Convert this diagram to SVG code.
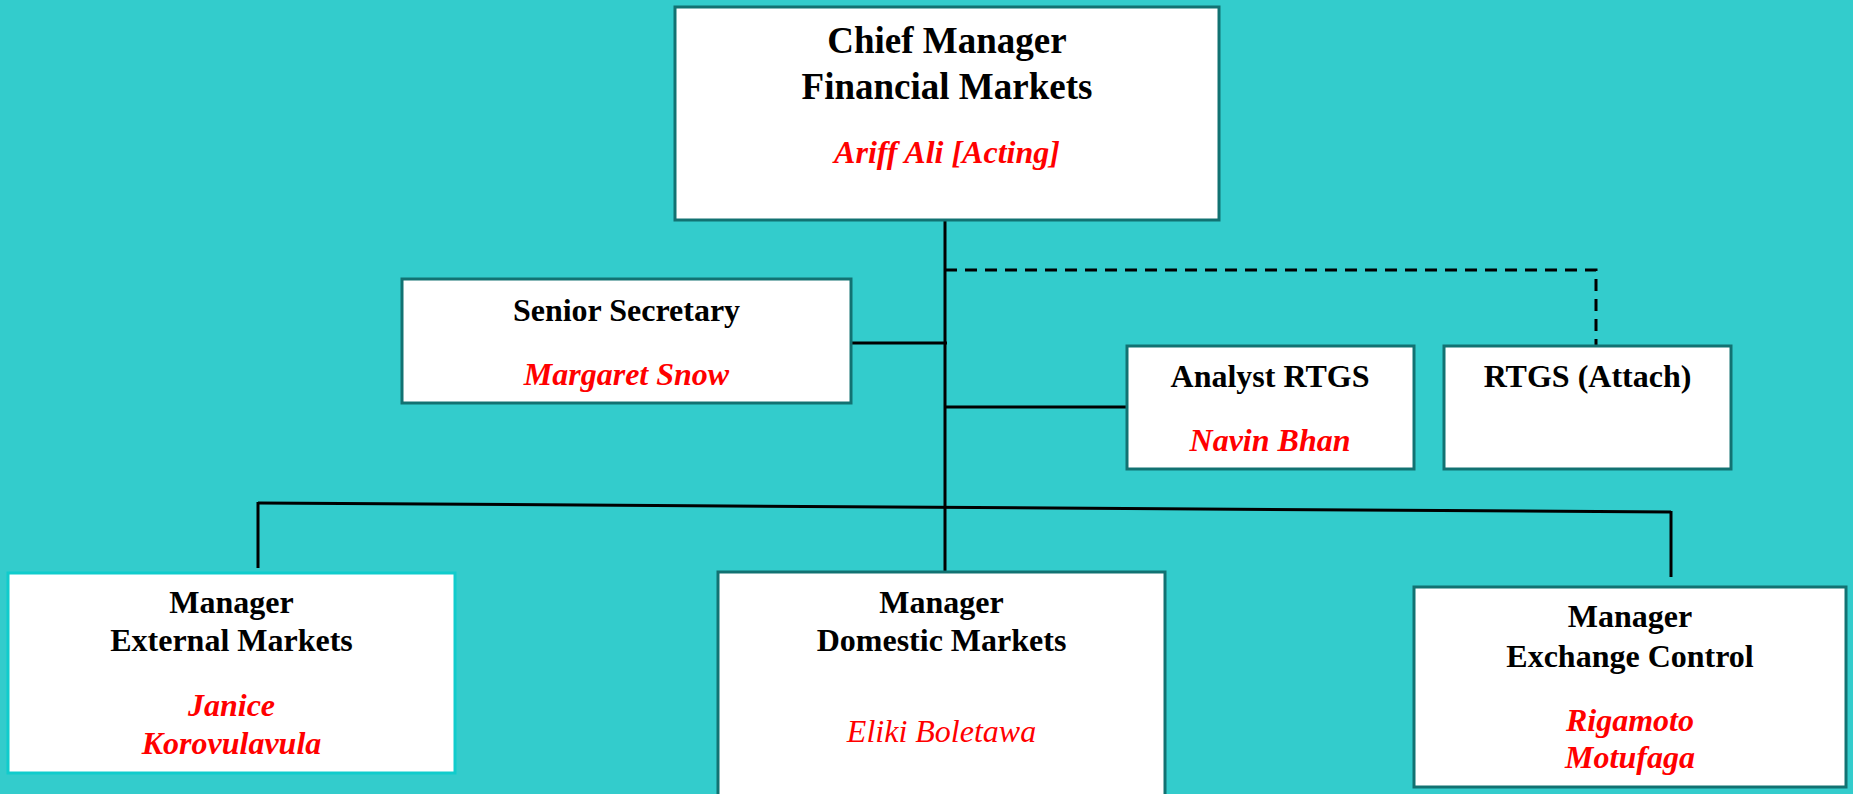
<svg xmlns="http://www.w3.org/2000/svg" width="1853" height="794" viewBox="0 0 1853 794">
<style>
.box{fill:#ffffff;stroke:#127272;stroke-width:3}
.boxc{fill:#ffffff;stroke:#10cccc;stroke-width:3}
.t{font-family:"Liberation Serif","Times New Roman",serif;font-weight:bold;fill:#000;text-anchor:middle;font-size:32px}
.tb{font-size:37px}
.n{font-family:"Liberation Serif","Times New Roman",serif;font-weight:bold;font-style:italic;fill:#ff0000;text-anchor:middle;font-size:32px}
.ni{font-family:"Liberation Serif","Times New Roman",serif;font-style:italic;fill:#ff0000;text-anchor:middle;font-size:32px}
.ln{stroke:#000;stroke-width:3;fill:none}
.dash{stroke:#000;stroke-width:3;fill:none;stroke-dasharray:12 8}
</style>
<rect x="0" y="0" width="1853" height="794" fill="#33cccc"/>
<g id="connectors">
<line class="ln" x1="945" y1="220" x2="945" y2="572"/>
<polyline class="dash" points="945,270 1596,270 1596,346"/>
<line class="ln" x1="851" y1="343" x2="947" y2="343"/>
<line class="ln" x1="945" y1="407" x2="1127" y2="407"/>
<line class="ln" x1="258" y1="503" x2="1671" y2="512"/>
<line class="ln" x1="258" y1="502" x2="258" y2="568"/>
<line class="ln" x1="1671" y1="511" x2="1671" y2="577"/>
</g>
<g id="chief">
<rect class="box" x="675" y="7" width="544" height="213"/>
<text class="t tb" x="947" y="53">Chief Manager</text>
<text class="t tb" x="947" y="99">Financial Markets</text>
<text class="n" x="947" y="163">Ariff Ali [Acting]</text>
</g>
<g id="secretary">
<rect class="box" x="402" y="279" width="449" height="124"/>
<text class="t" x="626.5" y="321">Senior Secretary</text>
<text class="n" x="626.5" y="385">Margaret Snow</text>
</g>
<g id="analyst">
<rect class="box" x="1127" y="346" width="287" height="123"/>
<text class="t" x="1270" y="387">Analyst RTGS</text>
<text class="n" x="1270" y="451">Navin Bhan</text>
</g>
<g id="rtgs-attach">
<rect class="box" x="1444" y="346" width="287" height="123"/>
<text class="t" x="1587.5" y="387">RTGS (Attach)</text>
</g>
<g id="external">
<rect class="boxc" x="8" y="573" width="447" height="200"/>
<text class="t" x="231.5" y="613">Manager</text>
<text class="t" x="231.5" y="651">External Markets</text>
<text class="n" x="231.5" y="716">Janice</text>
<text class="n" x="231.5" y="754">Korovulavula</text>
</g>
<g id="domestic">
<rect class="box" x="718" y="572" width="447" height="240"/>
<text class="t" x="941.5" y="613">Manager</text>
<text class="t" x="941.5" y="651">Domestic Markets</text>
<text class="ni" x="941.5" y="742">Eliki Boletawa</text>
</g>
<g id="exchange">
<rect class="box" x="1414" y="587" width="432" height="200"/>
<text class="t" x="1630" y="627">Manager</text>
<text class="t" x="1630" y="667">Exchange Control</text>
<text class="n" x="1630" y="731">Rigamoto</text>
<text class="n" x="1630" y="768">Motufaga</text>
</g>
</svg>
